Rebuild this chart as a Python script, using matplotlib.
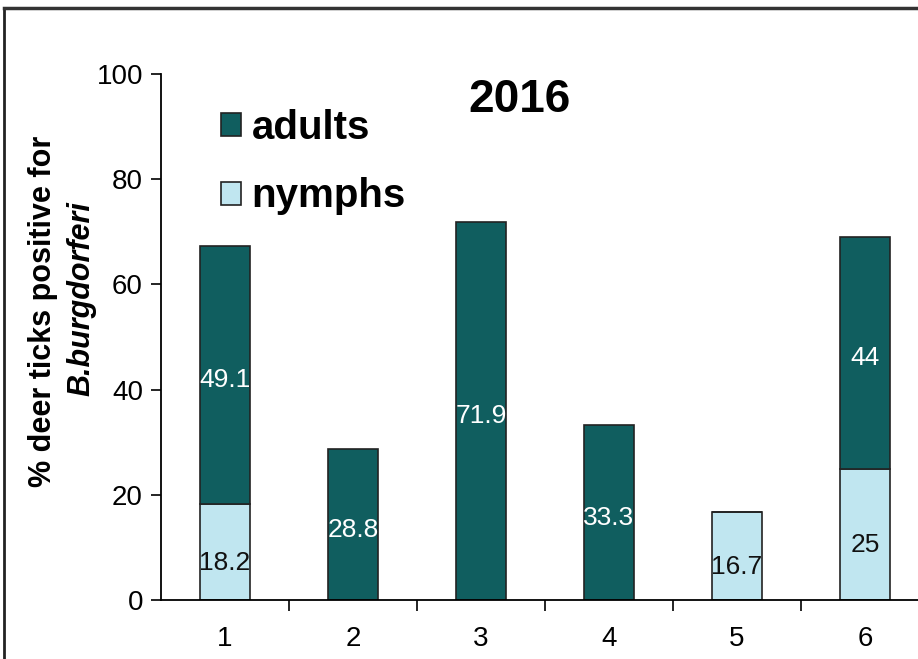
import numpy as np
import matplotlib.pyplot as plt
from matplotlib.lines import Line2D

plt.rcParams['font.family'] = ['Liberation Sans', 'DejaVu Sans']

sites = ['1', '2', '3', '4', '5', '6']
nymphs = [18.2, 0, 0, 0, 16.7, 25]
adults = [49.1, 28.8, 71.9, 33.3, 0, 44]
adult_labels = ['49.1', '28.8', '71.9', '33.3', '', '44']
nymph_labels = ['18.2', '', '', '', '16.7', '25']

dark = '#105e5f'
light = '#c0e6f0'

fig = plt.figure(figsize=(9.18, 6.59), dpi=100)
ax = fig.add_axes([161/918, 59/659, 768/918, 526/659])

x = np.arange(1, 7)
w = 0.385
ax.bar(x, nymphs, w, color=light, edgecolor='#222222', linewidth=1.2, label='nymphs')
ax.bar(x, adults, w, bottom=nymphs, color=dark, edgecolor='#222222', linewidth=1.2, label='adults')

for i in range(6):
    if adult_labels[i]:
        ax.text(x[i], nymphs[i] + adults[i] / 2 - 1, adult_labels[i], ha='center', va='center',
                color='white', fontsize=19)
    if nymph_labels[i]:
        ax.text(x[i], nymphs[i] / 2 - 2, nymph_labels[i], ha='center', va='center',
                color='#111111', fontsize=19)

ax.set_xlim(0.5, 6.5)
ax.set_ylim(0, 100)
ax.set_yticks([0, 20, 40, 60, 80, 100])
ax.set_xticks(x)
ax.set_xticklabels(sites)
ax.set_xticks(np.arange(1.5, 6.5, 1), minor=True)
ax.tick_params(axis='x', which='major', length=0, pad=19, labelsize=20)
ax.tick_params(axis='x', which='minor', length=8, width=1.2, direction='out')
ax.tick_params(axis='y', length=7, width=1.2, labelsize=20, pad=6)
for s in ['top', 'right']:
    ax.spines[s].set_visible(False)
ax.spines['left'].set_linewidth(1.3)
ax.spines['bottom'].set_linewidth(1.3)

fig.text(519/918, 1 - 100/659, '2016', ha='center', va='center',
         fontsize=33, fontweight='bold')

h, l = ax.get_legend_handles_labels()
fig.legend(h[::-1], l[::-1], loc='upper left', bbox_to_anchor=(185/918, 1 - 73/659),
           frameon=False, prop={'weight': 'bold', 'size': 29},
           handlelength=0.5, handleheight=0.5, handletextpad=0.25, labelspacing=0.75)

fig.text(43/918, 1 - 311/659, '% deer ticks positive for', rotation=90, ha='center', va='center',
         fontsize=22, fontweight='bold')
fig.text(81/918, 1 - 299/659, 'B.burgdorferi', rotation=90, ha='center', va='center',
         fontsize=22, fontweight='bold', style='italic')

# scanned frame border
fig.add_artist(Line2D([4/918, 4/918], [0, 1 - 8/659], color='#222222', linewidth=2, transform=fig.transFigure))
fig.add_artist(Line2D([4/918, 1], [1 - 8/659, 1 - 8/659], color='#333333', linewidth=2.5, transform=fig.transFigure))

fig.savefig('out.png', dpi=100)
